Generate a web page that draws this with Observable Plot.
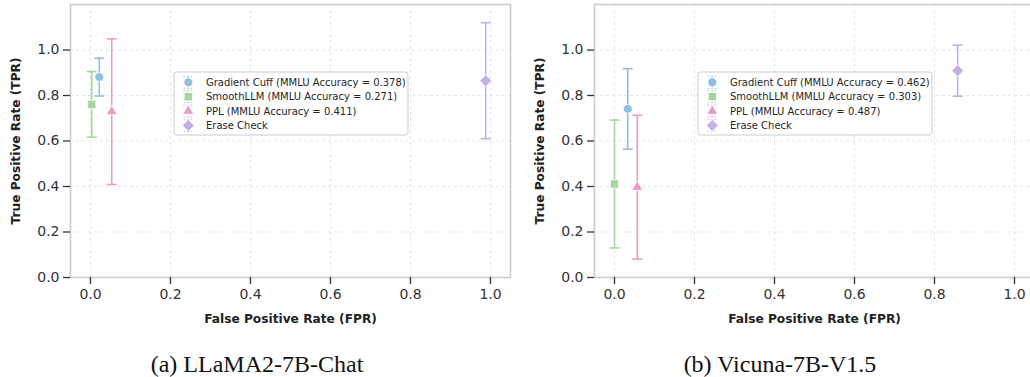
<!DOCTYPE html>
<html>
<head>
<meta charset="utf-8">
<script src="https://cdn.jsdelivr.net/npm/d3@7"></script>
<script src="https://cdn.jsdelivr.net/npm/@observablehq/plot@0.6"></script>
<style>
  html, body { margin: 0; padding: 0; background: #fff; overflow: hidden; }
  #wrap { position: relative; width: 1030px; height: 377px; overflow: hidden; }
  .panel { position: absolute; top: 0; }
  .panel svg { max-width: none !important; }
  .caption { position: absolute; font-family: "Liberation Serif", "Times New Roman", serif; font-size: 24px; color: #111; transform: translate(-50%, -50%); white-space: nowrap; }
</style>
</head>
<body>
<div id="wrap"></div>
<script>
// ---- Data ----
const methods = ["Gradient Cuff", "SmoothLLM", "PPL", "Erase Check"];
const methodColors = ["#91bde0", "#a5d6a0", "#e89bc7", "#c3b1e6"];
const methodSymbols = ["circle", "square", "triangle", "diamond2"];

const llamaFPR = [0.022, 0.003, 0.053, 0.988];
const llamaTPR = [0.881, 0.761, 0.729, 0.865];
const llamaErr = [0.083, 0.144, 0.320, 0.255];
const llamaLegend = [
  "Gradient Cuff (MMLU Accuracy = 0.378)",
  "SmoothLLM (MMLU Accuracy = 0.271)",
  "PPL (MMLU Accuracy = 0.411)",
  "Erase Check"
];

const vicunaFPR = [0.033, 0.0, 0.057, 0.858];
const vicunaTPR = [0.741, 0.411, 0.397, 0.909];
const vicunaErr = [0.177, 0.281, 0.316, 0.112];
const vicunaLegend = [
  "Gradient Cuff (MMLU Accuracy = 0.462)",
  "SmoothLLM (MMLU Accuracy = 0.303)",
  "PPL (MMLU Accuracy = 0.487)",
  "Erase Check"
];

const xTicks = [0, 0.2, 0.4, 0.6, 0.8, 1.0];
const yTicks = [0, 0.2, 0.4, 0.6, 0.8, 1.0];
const xLabel = "False Positive Rate (FPR)";
const yLabel = "True Positive Rate (TPR)";
const captions = ["(a) LLaMA2-7B-Chat", "(b) Vicuna-7B-V1.5"];

// styling (not data)
const markerRadius = { "Gradient Cuff": 4.5, "SmoothLLM": 4.7, "PPL": 4.1, "Erase Check": 5.4 };
const d3Symbols = { circle: d3.symbolCircle, square: d3.symbolSquare, triangle: d3.symbolTriangle, diamond2: d3.symbolDiamond2 };

// horizontal cap symbol for error bars
const capSymbol = { draw(ctx) { ctx.moveTo(-5, 0); ctx.lineTo(5, 0); } };

function makeRows(fpr, tpr, err) {
  return methods.map((m, i) => ({ method: m, fpr: fpr[i], tpr: tpr[i], lo: tpr[i] - err[i], hi: tpr[i] + err[i] }));
}

function makePlot(rows, legendLabels, width, marginLeft, marginRight) {
  const fmt = d3.format(".1f");
  const svg = Plot.plot({
    width, height: 335,
    marginLeft, marginRight, marginTop: 4, marginBottom: 58,
    style: { fontFamily: "'DejaVu Sans', sans-serif", background: "transparent", color: "#333", maxWidth: "none" },
    x: { domain: [-0.05, 1.05] },
    y: { domain: [0, 1.2] },
    r: { type: "identity" },
    color: { domain: methods, range: methodColors },
    symbol: { domain: methods, range: methodSymbols },
    marks: [
      Plot.gridX(xTicks, { stroke: "#dedede", strokeOpacity: 1, strokeDasharray: "3,3", strokeWidth: 0.8 }),
      Plot.gridY(yTicks, { stroke: "#dedede", strokeOpacity: 1, strokeDasharray: "3,3", strokeWidth: 0.8 }),
      Plot.frame({ stroke: "#cccccc", strokeWidth: 1.6 }),
      Plot.axisX(xTicks, { tickSize: 7, tickPadding: 5, tickFormat: fmt, fontSize: 14, stroke: "#333", strokeWidth: 1.3, label: null, fill: "#333" }),
      Plot.axisY(yTicks, { tickSize: 7, tickPadding: 4, tickFormat: fmt, fontSize: 14, stroke: "#333", strokeWidth: 1.3, label: null, fill: "#333" }),
      Plot.text([xLabel], { frameAnchor: "bottom", dy: 45, fontWeight: "bold", fontSize: 12.2, fill: "#222" }),
      Plot.text([yLabel], { frameAnchor: "left", textAnchor: "middle", rotate: -90, dx: -54, fontWeight: "bold", fontSize: 12.2, fill: "#222" }),
      Plot.ruleX(rows, { x: "fpr", y1: "lo", y2: "hi", stroke: "method", strokeWidth: 1.6 }),
      Plot.dot(rows, { x: "fpr", y: "hi", symbol: capSymbol, stroke: "method", strokeWidth: 1.6, fill: "none" }),
      Plot.dot(rows, { x: "fpr", y: "lo", symbol: capSymbol, stroke: "method", strokeWidth: 1.6, fill: "none" }),
      Plot.dot(rows, { x: "fpr", y: "tpr", symbol: "method", fill: "method", stroke: "white", strokeWidth: 0.8, r: d => markerRadius[d.method], fillOpacity: 1 })
    ]
  });
  svg.style.maxWidth = "none";

  // legend inside the frame
  const g = d3.select(svg).append("g").attr("text-anchor", "start");
  const bx = marginLeft + 104, by = 72, bw = 234, bh = 63;
  g.append("rect").attr("x", bx).attr("y", by).attr("width", bw).attr("height", bh)
    .attr("rx", 2.5).attr("fill", "white").attr("fill-opacity", 0.85)
    .attr("stroke", "#cccccc").attr("stroke-width", 1);
  methods.forEach((m, i) => {
    const cy = by + 10.3 + i * 14.4;
    const cx = bx + 14.3;
    const col = methodColors[i];
    const h = g.append("g").attr("transform", `translate(${cx},${cy})`);
    h.append("line").attr("x1", 0).attr("x2", 0).attr("y1", -6).attr("y2", 6)
      .attr("stroke", col).attr("stroke-width", 1.2).attr("stroke-dasharray", "2,1.5").attr("opacity", 0.6);
    [-6, 6].forEach(yy => h.append("line").attr("x1", -5).attr("x2", 5).attr("y1", yy).attr("y2", yy)
      .attr("stroke", col).attr("stroke-width", 1.2).attr("stroke-dasharray", "2,1.5").attr("opacity", 0.6));
    const r = markerRadius[m];
    h.append("path").attr("d", d3.symbol(d3Symbols[methodSymbols[i]], r * r * Math.PI)())
      .attr("fill", col).attr("stroke", "white").attr("stroke-width", 0.8);
    g.append("text").attr("x", bx + 32).attr("y", cy).attr("dy", "0.35em")
      .attr("text-anchor", "start")
      .attr("font-family", "'DejaVu Sans', sans-serif").attr("font-size", 10).attr("fill", "#262626")
      .text(legendLabels[i]);
  });
  return svg;
}

const wrap = document.getElementById("wrap");

const left = makePlot(makeRows(llamaFPR, llamaTPR, llamaErr), llamaLegend, 515, 70, 5);
const leftDiv = document.createElement("div");
leftDiv.className = "panel"; leftDiv.style.left = "0px"; leftDiv.style.width = "515px";
leftDiv.appendChild(left); wrap.appendChild(leftDiv);

const right = makePlot(makeRows(vicunaFPR, vicunaTPR, vicunaErr), vicunaLegend, 520, 74, 6);
const rightDiv = document.createElement("div");
rightDiv.className = "panel"; rightDiv.style.left = "520px"; rightDiv.style.width = "520px";
rightDiv.appendChild(right); wrap.appendChild(rightDiv);

[[captions[0], 257], [captions[1], 780]].forEach(([t, x]) => {
  const c = document.createElement("div");
  c.className = "caption";
  c.style.left = x + "px"; c.style.top = "364px";
  c.textContent = t;
  wrap.appendChild(c);
});
</script>
</body>
</html>
